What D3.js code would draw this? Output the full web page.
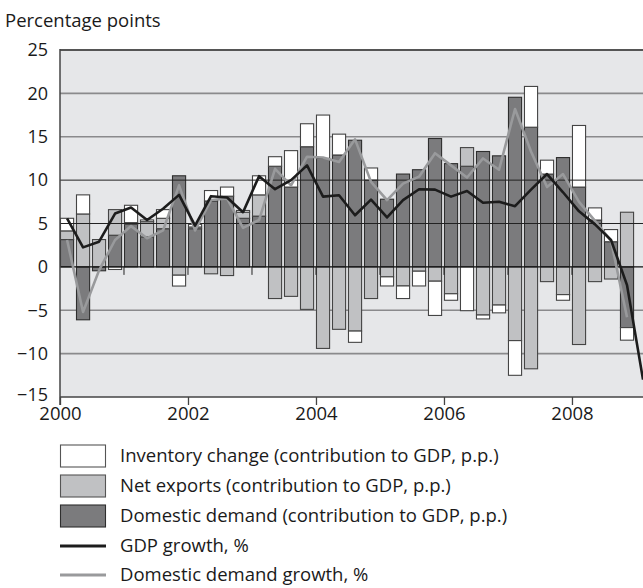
<!DOCTYPE html>
<html>
<head>
<meta charset="utf-8">
<script src="https://cdn.jsdelivr.net/npm/d3@7"></script>
<style>
  html, body { margin: 0; padding: 0; background: #fff; }
  svg { display: block; }
  text { font-family: "Open Sans", "Noto Sans", sans-serif; fill: #1a1a1a; }
</style>
</head>
<body>
<svg id="chart" width="643" height="588"></svg>
<script>
// ---- Data (quarterly, 2000Q1 .. 2008Q4 for bars) ----
const startYear = 2000;
const domesticDemand = [3.15, -6.1, -0.45, 3.65, 4.9, 3.46, 4.4, 10.5, 4.4, 7.6, 8.15, 5.6,
  5.85, 11.6, 9.2, 13.85, 12.5, 12.9, 14.6, 10.0, 7.8, 10.7, 11.2, 14.8,
  11.9, 11.6, 13.3, 12.8, 19.55, 16.1, 10.7, 12.6, 9.2, 5.4, 2.9, -7.0];
const netExports = [1.0, 6.1, 3.15, 2.95, 0.2, 1.75, 1.2, -0.96, 0.2, -0.8, -1.0, 0.7,
  2.45, -3.65, -3.4, -4.9, -9.4, -7.2, -7.4, -3.65, -1.15, -2.2, -0.5, -1.65,
  -3.1, 2.15, -5.55, -4.4, -8.5, -11.75, -1.7, -3.2, -8.95, -1.7, -1.4, 6.3];
const inventoryChange = [1.45, 2.2, 0, -0.3, 2.0, 0.2, 1.0, -1.25, 0.3, 1.2, 1.05, 0.2,
  2.2, 1.1, 4.2, 2.65, 5.0, 2.4, -1.3, 1.4, -1.05, -1.45, -1.7, -3.95,
  -0.75, -5.05, -0.45, -0.9, -4.0, 4.7, 1.6, -0.65, 7.1, 1.4, 1.4, -1.45];
const gdpGrowth = [5.6, 2.25, 2.9, 6.15, 6.85, 5.4, 6.7, 8.3, 4.75, 8.15, 8.0, 6.3,
  10.45, 8.95, 10.0, 11.7, 8.1, 8.25, 5.95, 7.75, 5.7, 7.7, 8.95, 8.9,
  8.1, 8.75, 7.4, 7.5, 7.0, 8.9, 10.7, 8.6, 6.4, 4.9, 3.1, -2.1, -13.0];
const domesticDemandGrowth = [3.1, -5.2, -0.4, 3.1, 4.7, 3.3, 4.2, 9.4, 4.2, 7.7, 7.9, 4.5,
  5.4, 11.3, 9.4, 12.7, 12.6, 12.1, 14.7, 9.8, 7.7, 9.6, 10.4, 13.1,
  11.7, 10.3, 12.5, 11.2, 18.2, 13.3, 9.2, 10.7, 7.5, 5.3, 3.0, -5.8];
const yTicks = [-15, -10, -5, 0, 5, 10, 15, 20, 25];
const xTickYears = [2000, 2002, 2004, 2006, 2008];
const yearMarks = [2001, 2002, 2003, 2004, 2005, 2006, 2007, 2008];
const seriesKeys = ["domestic", "net", "inventory"];
const seriesNames = {
  inventory: "Inventory change (contribution to GDP, p.p.)",
  net: "Net exports (contribution to GDP, p.p.)",
  domestic: "Domestic demand (contribution to GDP, p.p.)"
};
const lineNames = ["GDP growth, %", "Domestic demand growth, %"];
const yLabel = "Percentage points";

// ---- Layout ----
const svg = d3.select("#chart");
const L = 60, T = 50, R = 643, B = 397;
const x = d3.scaleLinear().domain([2000, 2009.11]).range([L, R]);
const y = d3.scaleLinear().domain([-15, 25]).range([B, T]);
const qw = x(2000.25) - x(2000);
const colors = { domestic: "#7b7b7d", net: "#c0c1c3", inventory: "#ffffff" };

const tOf = i => startYear + i / 4;
const table = domesticDemand.map((d, i) => ({ t: tOf(i), domestic: d, net: netExports[i], inventory: inventoryChange[i] }));
const stacked = d3.stack().keys(seriesKeys).offset(d3.stackOffsetDiverging)(table);

svg.append("defs").append("clipPath").attr("id", "plotclip")
  .append("rect").attr("x", L).attr("y", T).attr("width", R - L).attr("height", B - T);

// background
svg.append("rect").attr("x", L).attr("y", T).attr("width", R - L).attr("height", B - T).attr("fill", "#e6e7e9");

// back gridlines (grey)
svg.append("g").selectAll("line").data(yTicks.filter(v => [20, 15, -5, -10].includes(v))).join("line")
  .attr("x1", L).attr("x2", R).attr("y1", d => y(d)).attr("y2", d => y(d))
  .attr("stroke", "#8a8a8c").attr("stroke-width", 1.6);

// bars
const barW = qw * 0.82;
const gBars = svg.append("g").attr("clip-path", "url(#plotclip)");
stacked.forEach(s => {
  gBars.append("g").selectAll("rect").data(s.filter(d => Math.abs(d[1] - d[0]) > 0.001)).join("rect")
    .attr("x", d => x(d.data.t) + 0.5)
    .attr("width", barW)
    .attr("y", d => y(Math.max(d[0], d[1])))
    .attr("height", d => Math.abs(y(d[0]) - y(d[1])))
    .attr("fill", colors[s.key])
    .attr("stroke", s.key === "domestic" ? "#2e2e2e" : "#444")
    .attr("stroke-width", 1.1);
});

// front gridlines (dark thin)
svg.append("g").selectAll("line").data([5, 10]).join("line")
  .attr("x1", L).attr("x2", R).attr("y1", d => y(d)).attr("y2", d => y(d))
  .attr("stroke", "#222").attr("stroke-width", 1);

// zero line
svg.append("line").attr("x1", L).attr("x2", R).attr("y1", y(0)).attr("y2", y(0))
  .attr("stroke", "#111").attr("stroke-width", 1.3);
svg.append("g").selectAll("line").data(yearMarks).join("line")
  .attr("x1", d => x(d)).attr("x2", d => x(d)).attr("y1", y(0)).attr("y2", y(0) + 8)
  .attr("stroke", "#222").attr("stroke-width", 1);

// lines
const cx = i => x(tOf(i)) + 0.5 + barW / 2;
const lineGen = d3.line().x((d, i) => cx(i)).y(d => y(d));
const gLines = svg.append("g").attr("clip-path", "url(#plotclip)");
gLines.append("path").attr("d", lineGen(domesticDemandGrowth))
  .attr("fill", "none").attr("stroke", "#999a9c").attr("stroke-width", 2.6).attr("stroke-linejoin", "round");
gLines.append("path").attr("d", lineGen(gdpGrowth))
  .attr("fill", "none").attr("stroke", "#1c1c1c").attr("stroke-width", 2.6).attr("stroke-linejoin", "round");

// frame
svg.append("line").attr("x1", L).attr("x2", R).attr("y1", T).attr("y2", T).attr("stroke", "#555").attr("stroke-width", 2);
svg.append("line").attr("x1", L).attr("x2", R).attr("y1", B).attr("y2", B).attr("stroke", "#444").attr("stroke-width", 1.5);
svg.append("line").attr("x1", L).attr("x2", L).attr("y1", T - 1).attr("y2", B + 8).attr("stroke", "#444").attr("stroke-width", 1.5);

// y axis labels
const yAxis = d3.axisLeft(y).tickValues(yTicks).tickSize(0).tickPadding(12)
  .tickFormat(d => d < 0 ? "\u2212" + Math.abs(d) : String(d));
const gy = svg.append("g").attr("transform", `translate(${L},0)`).call(yAxis);
gy.select(".domain").remove();
gy.selectAll("text").style("font-size", "18px").attr("fill", "#1a1a1a");
gy.selectAll("text").filter(d => d === -15).attr("dy", "0.22em");

// x axis
const xAxis = d3.axisBottom(x).tickValues(xTickYears).tickSize(8).tickPadding(2).tickFormat(d3.format("d"));
const gx = svg.append("g").attr("transform", `translate(0,${B})`).call(xAxis);
gx.select(".domain").remove();
gx.selectAll("line").attr("stroke", "#444").attr("stroke-width", 1.3);
gx.selectAll("text").style("font-size", "18.5px").attr("fill", "#1a1a1a");

// y title
svg.append("text").attr("x", 5).attr("y", 27).style("font-size", "18.5px").text(yLabel);

// legend
const legend = svg.append("g");
const rowY = [456, 486, 516, 546, 575];
const boxKeys = ["inventory", "net", "domestic"];
boxKeys.forEach((k, i) => {
  legend.append("rect").attr("x", 60.5).attr("y", rowY[i] - 11).attr("width", 45).attr("height", 22)
    .attr("fill", colors[k]).attr("stroke", k === "domestic" ? "#2e2e2e" : "#555").attr("stroke-width", 1.1);
  legend.append("text").attr("x", 120).attr("y", rowY[i]).attr("dy", "0.35em")
    .style("font-size", "18.5px").text(seriesNames[k]);
});
const lineColors = ["#1c1c1c", "#999a9c"];
lineNames.forEach((n, j) => {
  const yy = rowY[3 + j];
  legend.append("line").attr("x1", 60).attr("x2", 106).attr("y1", yy).attr("y2", yy)
    .attr("stroke", lineColors[j]).attr("stroke-width", 3);
  legend.append("text").attr("x", 120).attr("y", yy).attr("dy", "0.35em")
    .style("font-size", "18.5px").text(n);
});
</script>
</body>
</html>
